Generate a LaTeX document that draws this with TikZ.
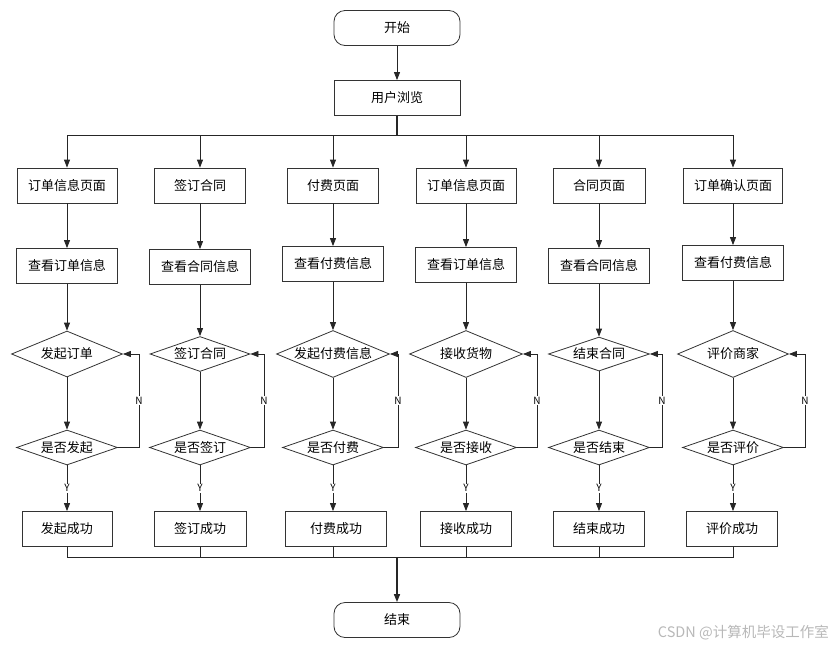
\documentclass[tikz,border=0pt]{standalone}
\usepackage{fontspec}
\setmainfont{Noto Sans CJK SC}
\usetikzlibrary{positioning,arrows.meta,shapes.geometric}
\newcommand{\boxfont}{\fontsize{13}{15}\selectfont}
\tikzset{
  boxy/.style   ={rectangle, draw=black!80, fill=white, align=center,
                  font=\boxfont, inner sep=2pt, minimum height=35pt,
                  line width=0.8pt},
  term/.style   ={boxy, rounded corners=11pt, minimum width=126pt},
  choice/.style ={diamond, draw=black!80, fill=white, aspect=2.4,
                  inner sep=0pt, font=\boxfont, line width=0.8pt},
  flow/.style   ={-{Triangle[length=8pt,width=6pt]}, draw=black!85,
                  line width=0.8pt},
  joint/.style  ={draw=black!85, line width=0.8pt},
  yn/.style     ={font=\fontsize{10}{11}\selectfont, fill=white, inner sep=1pt}
}

\begin{document}
\begin{tikzpicture}[x=1pt,y=-1pt]
\useasboundingbox (0,0) rectangle (839,649);
%% top: start and browsing
\node[term] (start)  at (397,28)  {开始};
\node[boxy, minimum width=126pt] (browse) at (397,98) {用户浏览};
\coordinate (topbus) at (397,135);
\coordinate (botbus) at (397,557);

%% row 1: pages
\node[boxy, minimum width=100pt] (p1) at (67,185.5)  {订单信息页面};
\node[boxy, minimum width=91pt]  (p2) at (200,185.5) {签订合同};
\node[boxy, minimum width=91pt]  (p3) at (333,185.5) {付费页面};
\node[boxy, minimum width=100pt] (p4) at (466,185.5) {订单信息页面};
\node[boxy, minimum width=92pt]  (p5) at (599,185.5) {合同页面};
\node[boxy, minimum width=99pt]  (p6) at (733,185.5) {订单确认页面};

%% row 2: viewing
\node[boxy, minimum width=101pt] (v1) at (67,266)  {查看订单信息};
\node[boxy, minimum width=101pt] (v2) at (200,267) {查看合同信息};
\node[boxy, minimum width=101pt] (v3) at (333,264) {查看付费信息};
\node[boxy, minimum width=101pt] (v4) at (466,265) {查看订单信息};
\node[boxy, minimum width=101pt] (v5) at (599,266) {查看合同信息};
\node[boxy, minimum width=101pt] (v6) at (733,263) {查看付费信息};

%% row 3: actions
\node[choice, minimum width=111pt, minimum height=46pt] (d1) at (67,354)  {发起订单};
\node[choice, minimum width=100pt, minimum height=35pt] (d2) at (200,354) {签订合同};
\node[choice, minimum width=113pt, minimum height=47pt] (d3) at (333,354) {发起付费信息};
\node[choice, minimum width=113pt, minimum height=47pt] (d4) at (466,354) {接收货物};
\node[choice, minimum width=101pt, minimum height=34pt] (d5) at (599,354) {结束合同};
\node[choice, minimum width=111pt, minimum height=47pt] (d6) at (733,354) {评价商家};

%% row 4: checks
\node[choice, minimum width=101pt, minimum height=35pt] (q1) at (67,447.5)  {是否发起};
\node[choice, minimum width=101pt, minimum height=35pt] (q2) at (200,447.5) {是否签订};
\node[choice, minimum width=101pt, minimum height=35pt] (q3) at (333,447.5) {是否付费};
\node[choice, minimum width=101pt, minimum height=35pt] (q4) at (466,447.5) {是否接收};
\node[choice, minimum width=101pt, minimum height=35pt] (q5) at (599,447.5) {是否结束};
\node[choice, minimum width=101pt, minimum height=35pt] (q6) at (733,447.5) {是否评价};

%% row 5: results
\node[boxy, minimum width=90pt] (r1) at (67,529)  {发起成功};
\node[boxy, minimum width=92pt] (r2) at (200,529) {签订成功};
\node[boxy, minimum width=101pt](r3) at (336,529) {付费成功};
\node[boxy, minimum width=91pt] (r4) at (466,529) {接收成功};
\node[boxy, minimum width=91pt] (r5) at (599,529) {结束成功};
\node[boxy, minimum width=91pt] (r6) at (732,529) {评价成功};

\node[term] (end) at (397,620) {结束};
\node[font=\fontsize{14.5}{16}\selectfont, text=black!28, anchor=east, inner sep=0pt]
  (mark) at (829,633) {CSDN @计算机毕设工作室};

\draw[flow] (start) -- (browse);
\draw[joint, line width=1.5pt] (browse.south) -- (topbus);
\draw[flow] (topbus) -| (p1.north);
\draw[flow] (topbus) -| (p2.north);
\draw[flow] (topbus) -| (p3.north);
\draw[flow] (topbus) -| (p4.north);
\draw[flow] (topbus) -| (p5.north);
\draw[flow] (topbus) -| (p6.north);

\draw[flow] (p1) -- (v1);  \draw[flow] (v1) -- (d1);  \draw[flow] (d1) -- (q1);
\draw[flow] (p2) -- (v2);  \draw[flow] (v2) -- (d2);  \draw[flow] (d2) -- (q2);
\draw[flow] (p3) -- (v3);  \draw[flow] (v3) -- (d3);  \draw[flow] (d3) -- (q3);
\draw[flow] (p4) -- (v4);  \draw[flow] (v4) -- (d4);  \draw[flow] (d4) -- (q4);
\draw[flow] (p5) -- (v5);  \draw[flow] (v5) -- (d5);  \draw[flow] (d5) -- (q5);
\draw[flow] (p6) -- (v6);  \draw[flow] (v6) -- (d6);  \draw[flow] (d6) -- (q6);

%% yes: go on, no: back to the action
\draw[flow] (q1) -- node[yn]{Y} (r1.north -| q1);
\draw[flow] (q2) -- node[yn]{Y} (r2.north -| q2);
\draw[flow] (q3) -- node[yn]{Y} (r3.north -| q3);
\draw[flow] (q4) -- node[yn]{Y} (r4.north -| q4);
\draw[flow] (q5) -- node[yn]{Y} (r5.north -| q5);
\draw[flow] (q6) -- node[yn]{Y} (r6.north -| q6);
\draw[flow] (q1.east) -- ++(21,0) |- node[yn, pos=0.25]{N} (d1.east);
\draw[flow] (q2.east) -- ++(13,0) |- node[yn, pos=0.25]{N} (d2.east);
\draw[flow] (q3.east) -- ++(14,0) |- node[yn, pos=0.25]{N} (d3.east);
\draw[flow] (q4.east) -- ++(20,0) |- node[yn, pos=0.25]{N} (d4.east);
\draw[flow] (q5.east) -- ++(12,0) |- node[yn, pos=0.25]{N} (d5.east);
\draw[flow] (q6.east) -- ++(21,0) |- node[yn, pos=0.25]{N} (d6.east);

%% bottom: all results join and end
\draw[joint] (r1.south -| q1) |- (botbus);
\draw[joint] (r2.south -| q2) |- (botbus);
\draw[joint] (r3.south -| q3) |- (botbus);
\draw[joint] (r4.south -| q4) |- (botbus);
\draw[joint] (r5.south -| q5) |- (botbus);
\draw[joint] (r6.south -| q6) |- (botbus);
\draw[flow, line width=1.5pt] (botbus) -- (end);
\end{tikzpicture}
\end{document}
